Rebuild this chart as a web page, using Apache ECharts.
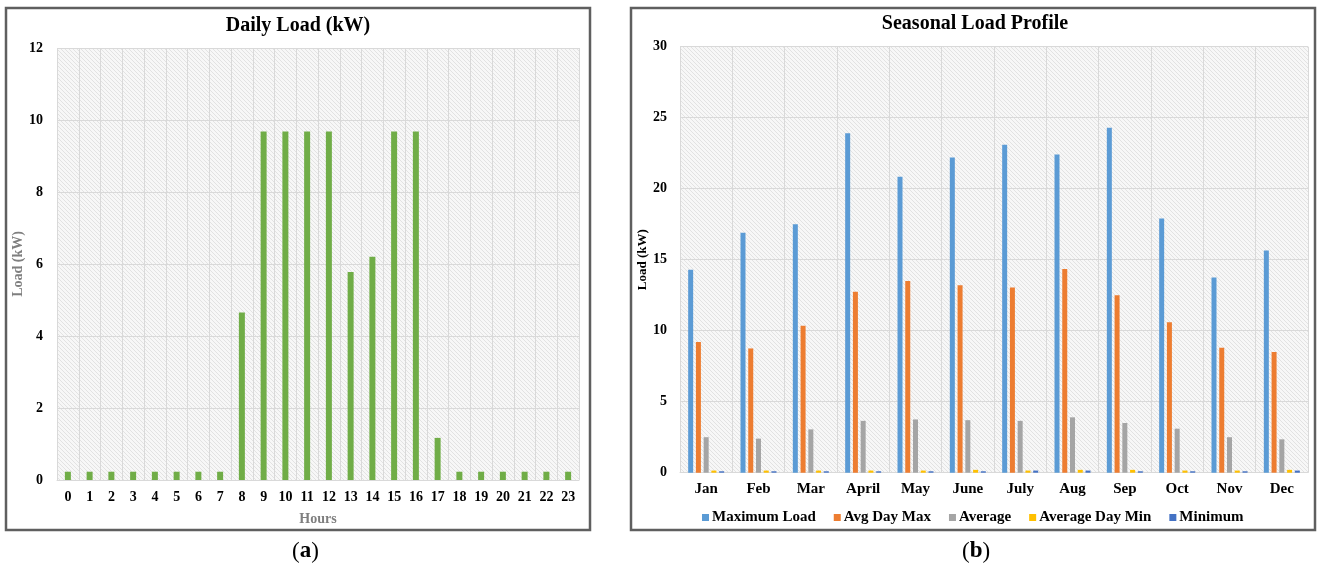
<!DOCTYPE html>
<html>
<head>
<meta charset="utf-8">
<script src="https://cdn.jsdelivr.net/npm/echarts@6/dist/echarts.min.js"></script>
<style>
html,body{margin:0;padding:0;background:#fff;}
#c{width:1319px;height:574px;}
</style>
</head>
<body>
<div id="c"></div>
<script>
// ---- Data ----
const hours = ['0','1','2','3','4','5','6','7','8','9','10','11','12','13','14','15','16','17','18','19','20','21','22','23'];
const dailyLoad = [0.23,0.23,0.23,0.23,0.23,0.23,0.23,0.23,4.65,9.68,9.68,9.68,9.68,5.78,6.2,9.68,9.68,1.17,0.23,0.23,0.23,0.23,0.23,0.23];

const months = ['Jan','Feb','Mar','April','May','June','July','Aug','Sep','Oct','Nov','Dec'];
const maximumLoad = [14.3,16.9,17.5,23.9,20.85,22.2,23.1,22.4,24.3,17.9,13.75,15.65];
const avgDayMax   = [9.2,8.75,10.35,12.75,13.5,13.2,13.05,14.35,12.5,10.6,8.8,8.5];
const average     = [2.5,2.4,3.05,3.65,3.75,3.7,3.65,3.9,3.5,3.1,2.5,2.35];
const avgDayMin   = [0.15,0.15,0.15,0.15,0.15,0.2,0.15,0.2,0.2,0.15,0.15,0.2];
const minimum     = [0.1,0.1,0.1,0.1,0.1,0.1,0.15,0.15,0.1,0.1,0.1,0.15];

const dailyTicks = {min:0, max:12, interval:2};
const seasonalTicks = {min:0, max:30, interval:5};

// ---- Hatch pattern ----
function hatch(){
  const c = document.createElement('canvas');
  c.width = 4; c.height = 4;
  const g = c.getContext('2d');
  g.fillStyle = '#f7f7f7'; g.fillRect(0,0,4,4);
  g.strokeStyle = '#e2e2e2'; g.lineWidth = 1;
  g.beginPath();
  g.moveTo(-1,-1); g.lineTo(5,5);
  g.moveTo(-1,3); g.lineTo(1,5);
  g.moveTo(3,-1); g.lineTo(5,1);
  g.stroke();
  return {image: c, repeat: 'repeat'};
}
const pat = hatch();

const serif = '"Liberation Serif", "DejaVu Serif", serif';
const lbl = {fontFamily: serif, fontWeight: 'bold', fontSize: 14, color: '#000'};
const gridLine = {show: true, lineStyle: {color: '#d9d9d9', width: 1}};

const chart = echarts.init(document.getElementById('c'), null, {renderer: 'canvas'});

const sNames = ['Maximum Load','Avg Day Max','Average','Average Day Min','Minimum'];
const sData = [maximumLoad, avgDayMax, average, avgDayMin, minimum];
const sColors = ['#5B9BD5','#ED7D31','#A5A5A5','#FFC000','#4472C4'];

const seasonalSeries = sNames.map((n,i)=>({
  name: n, type: 'bar', xAxisIndex: 1, yAxisIndex: 1,
  data: sData[i], barWidth: 5, barGap: '55%',
  itemStyle: {color: sColors[i]}, animation: false
}));

chart.setOption({
  animation: false,
  graphic: [
    {type:'rect', shape:{x:6, y:8, width:584, height:522}, style:{fill:'none', stroke:'#5f5f5f', lineWidth:2.5}, z:-1},
    {type:'rect', shape:{x:631, y:8, width:684, height:522}, style:{fill:'none', stroke:'#5f5f5f', lineWidth:2.5}, z:-1},
    {type:'text', left:292, top:540, style:{text:'({a|a})', textAlign:'center', fontFamily:serif, fontSize:23, fill:'#000', rich:{a:{fontFamily:serif, fontSize:23, fontWeight:'bold'}}}},
    {type:'text', left:962, top:540, style:{text:'({a|b})', textAlign:'center', fontFamily:serif, fontSize:23, fill:'#000', rich:{a:{fontFamily:serif, fontSize:23, fontWeight:'bold'}}}}
  ],
  title: [
    {text:'Daily Load (kW)', left:293, top:11, textAlign:'center',
     textStyle:{fontFamily:serif, fontWeight:'bold', fontSize:20, color:'#000'}},
    {text:'Seasonal Load Profile', left:970, top:9, textAlign:'center',
     textStyle:{fontFamily:serif, fontWeight:'bold', fontSize:20, color:'#000'}}
  ],
  legend: {
    data: sNames, left: 697, top: 505, itemWidth: 7, itemHeight: 7, itemGap: 18,
    icon: 'rect',
    textStyle: {fontFamily: serif, fontWeight: 'bold', fontSize: 15, color: '#000', padding:[0,0,0,-2]}
  },
  grid: [
    {left:57, right:740, top:48, bottom:94, show:true, backgroundColor: pat, borderWidth:0},
    {left:680, right:11, top:46.7, bottom:101.3, show:true, backgroundColor: pat, borderWidth:0}
  ],
  xAxis: [
    {type:'category', gridIndex:0, data:hours,
     name:'Hours', nameLocation:'middle', nameGap:32,
     nameTextStyle:{fontFamily:serif, fontWeight:'bold', fontSize:14, color:'#7f7f7f'},
     axisLine:{lineStyle:{color:'#d9d9d9'}}, axisTick:{show:false},
     axisLabel:Object.assign({margin:10}, lbl), splitLine:gridLine},
    {type:'category', gridIndex:1, data:months,
     axisLine:{lineStyle:{color:'#d9d9d9'}}, axisTick:{show:false},
     axisLabel:Object.assign({margin:9}, lbl, {fontSize:15}), splitLine:gridLine}
  ],
  yAxis: [
    {type:'value', gridIndex:0, min:dailyTicks.min, max:dailyTicks.max, interval:dailyTicks.interval,
     name:'Load (kW)', nameLocation:'middle', nameGap:29,
     nameTextStyle:{fontFamily:serif, fontWeight:'bold', fontSize:14, color:'#7f7f7f'},
     axisLine:{show:false}, axisTick:{show:false},
     axisLabel:Object.assign({margin:14}, lbl), splitLine:gridLine},
    {type:'value', gridIndex:1, min:seasonalTicks.min, max:seasonalTicks.max, interval:seasonalTicks.interval,
     name:'Load (kW)', nameLocation:'middle', nameGap:29,
     nameTextStyle:{fontFamily:serif, fontWeight:'bold', fontSize:13, color:'#000'},
     axisLine:{show:false}, axisTick:{show:false},
     axisLabel:Object.assign({margin:13}, lbl), splitLine:gridLine}
  ],
  series: [
    {name:'Daily Load', type:'bar', xAxisIndex:0, yAxisIndex:0, data:dailyLoad,
     barWidth:6, itemStyle:{color:'#70AD47'}}
  ].concat(seasonalSeries)
});
</script>
</body>
</html>
